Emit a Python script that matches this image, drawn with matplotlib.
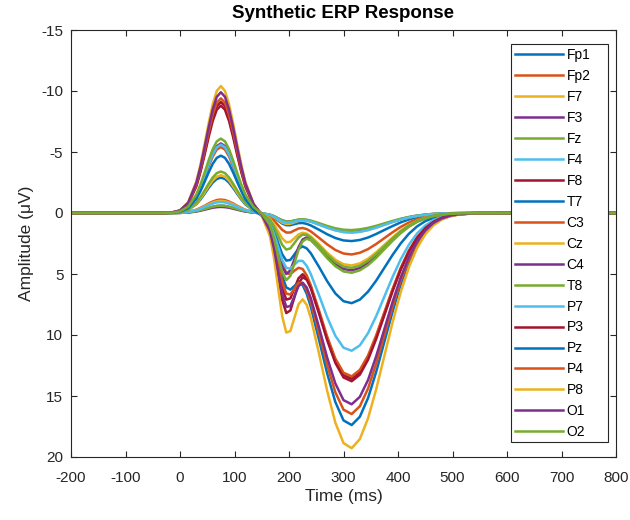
import matplotlib
matplotlib.use("Agg")
import matplotlib.pyplot as plt
from matplotlib.patches import Rectangle

plt.rcParams['font.family'] = ['Liberation Sans', 'DejaVu Sans']
plt.rcParams['axes.unicode_minus'] = False

# Time axis (ms)
time_ms = [-200, -30, -15, 0, 15, 30,
           37.5, 45, 52.5, 60, 67.5, 75, 82.5, 90, 97.5, 105, 112.5,
           120, 135, 150, 165,
           172.5, 180, 187.5, 195, 202.5, 210, 217.5, 225, 232.5,
           240, 255, 270, 285, 300, 315, 330, 345, 360, 375, 390, 405, 420, 435,
           450, 465, 480, 495, 510, 540, 800]

channels = ['Fp1', 'Fp2', 'F7', 'F3', 'Fz', 'F4', 'F8', 'T7', 'C3', 'Cz',
            'C4', 'T8', 'P7', 'P3', 'Pz', 'P4', 'P8', 'O1', 'O2']

# Amplitudes (uV) per channel
Fp1 = [0, 0, 0.0, -0.01, -0.05, -0.15,
       -0.23, -0.32, -0.42, -0.51, -0.58, -0.6, -0.58, -0.51, -0.42, -0.32, -0.23,
       -0.14, -0.04, 0.04, 0.20,
       0.38, 0.62, 0.86, 1.00, 1.00, 0.91, 0.83, 0.82, 0.89,
       1.02, 1.37, 1.74, 2.05, 2.25, 2.30, 2.21, 2.01, 1.72, 1.39, 1.07, 0.77, 0.53, 0.34,
       0.21, 0.12, 0.07, 0.03, 0.02, 0.0, 0]
Fp2 = [0, 0, 0.0, -0.02, -0.09, -0.27,
       -0.42, -0.59, -0.78, -0.94, -1.06, -1.1, -1.06, -0.94, -0.78, -0.59, -0.42,
       -0.26, -0.07, 0.05, 0.31,
       0.61, 1.00, 1.38, 1.60, 1.60, 1.43, 1.27, 1.23, 1.32,
       1.51, 2.03, 2.57, 3.03, 3.32, 3.40, 3.26, 2.96, 2.54, 2.06, 1.58, 1.14, 0.78, 0.51,
       0.31, 0.18, 0.10, 0.05, 0.02, 0.0, 0]
F7 = [0, 0, 0.0, -0.02, -0.09, -0.25,
      -0.38, -0.54, -0.71, -0.86, -0.96, -1.0, -0.96, -0.86, -0.71, -0.54, -0.38,
      -0.25, -0.07, 0.02, 0.17,
      0.34, 0.56, 0.78, 0.90, 0.88, 0.77, 0.65, 0.60, 0.63,
      0.71, 0.95, 1.21, 1.42, 1.56, 1.60, 1.54, 1.40, 1.20, 0.97, 0.74, 0.54, 0.37, 0.24,
      0.15, 0.08, 0.05, 0.02, 0.01, 0.0, 0]
F3 = [0, 0, 0.0, -0.01, -0.04, -0.12,
      -0.19, -0.27, -0.35, -0.43, -0.48, -0.5, -0.48, -0.43, -0.35, -0.27, -0.19,
      -0.12, -0.03, 0.02, 0.14,
      0.26, 0.44, 0.60, 0.70, 0.70, 0.63, 0.56, 0.54, 0.58,
      0.67, 0.89, 1.13, 1.34, 1.47, 1.50, 1.44, 1.31, 1.12, 0.91, 0.70, 0.50, 0.35, 0.22,
      0.14, 0.08, 0.04, 0.02, 0.01, 0.0, 0]
Fz = [0, 0, 0.0, -0.01, -0.05, -0.15,
      -0.23, -0.32, -0.42, -0.51, -0.58, -0.6, -0.58, -0.51, -0.42, -0.32, -0.23,
      -0.15, -0.04, 0.02, 0.14,
      0.26, 0.44, 0.60, 0.70, 0.69, 0.61, 0.54, 0.51, 0.55,
      0.62, 0.83, 1.06, 1.25, 1.37, 1.40, 1.34, 1.22, 1.05, 0.85, 0.65, 0.47, 0.32, 0.21,
      0.13, 0.07, 0.04, 0.02, 0.01, 0.0, 0]
F4 = [0, 0, 0.0, -0.02, -0.08, -0.22,
      -0.34, -0.49, -0.64, -0.77, -0.87, -0.9, -0.87, -0.77, -0.64, -0.49, -0.34,
      -0.22, -0.07, 0.02, 0.15,
      0.30, 0.50, 0.69, 0.80, 0.79, 0.70, 0.62, 0.59, 0.62,
      0.71, 0.95, 1.21, 1.42, 1.56, 1.60, 1.54, 1.40, 1.20, 0.97, 0.74, 0.54, 0.37, 0.24,
      0.15, 0.08, 0.05, 0.02, 0.01, 0.0, 0]
F8 = [0, 0, -0.03, -0.18, -0.75, -2.19,
      -3.35, -4.75, -6.22, -7.54, -8.47, -8.8, -8.47, -7.54, -6.22, -4.75, -3.35,
      -2.15, -0.66, 0.13, 1.36,
      2.68, 4.44, 6.14, 7.10, 7.00, 6.18, 5.35, 5.02, 5.32,
      6.06, 8.11, 10.27, 12.10, 13.29, 13.59, 13.06, 11.86, 10.17, 8.25, 6.32, 4.57, 3.13, 2.02,
      1.23, 0.71, 0.39, 0.20, 0.10, 0.02, 0]
T7 = [0, 0, -0.01, -0.06, -0.25, -0.72,
      -1.10, -1.57, -2.05, -2.49, -2.79, -2.9, -2.79, -2.49, -2.05, -1.57, -1.10,
      -0.70, -0.20, 0.11, 0.75,
      1.47, 2.44, 3.38, 3.90, 3.85, 3.39, 2.92, 2.74, 2.90,
      3.30, 4.41, 5.59, 6.59, 7.23, 7.39, 7.10, 6.45, 5.54, 4.49, 3.44, 2.49, 1.70, 1.10,
      0.67, 0.39, 0.21, 0.11, 0.05, 0.01, 0]
C3 = [0, 0, -0.02, -0.11, -0.46, -1.34,
      -2.06, -2.92, -3.82, -4.63, -5.20, -5.4, -5.20, -4.63, -3.82, -2.92, -2.06,
      -1.31, -0.37, 0.15, 0.99,
      1.86, 3.02, 4.17, 4.90, 5.02, 4.73, 4.49, 4.59, 5.11,
      5.93, 7.98, 10.12, 11.93, 13.09, 13.39, 12.86, 11.68, 10.02, 8.13, 6.23, 4.50, 3.08, 1.99,
      1.22, 0.70, 0.38, 0.20, 0.10, 0.02, 0]
Cz = [0, 0, -0.01, -0.07, -0.26, -0.77,
      -1.18, -1.67, -2.19, -2.66, -2.98, -3.1, -2.98, -2.66, -2.19, -1.67, -1.18,
      -0.76, -0.23, 0.04, 0.46,
      0.91, 1.51, 2.08, 2.40, 2.36, 2.06, 1.75, 1.62, 1.69,
      1.92, 2.56, 3.25, 3.83, 4.20, 4.30, 4.13, 3.75, 3.22, 2.61, 2.00, 1.44, 0.99, 0.64,
      0.39, 0.23, 0.12, 0.06, 0.03, 0.01, 0]
C4 = [0, 0, -0.02, -0.12, -0.48, -1.42,
      -2.17, -3.08, -4.03, -4.88, -5.48, -5.7, -5.48, -4.88, -4.03, -3.08, -2.17,
      -1.41, -0.45, 0.04, 0.90,
      1.87, 3.18, 4.40, 5.00, 4.70, 3.78, 2.80, 2.17, 2.00,
      2.14, 2.80, 3.55, 4.18, 4.59, 4.70, 4.51, 4.10, 3.52, 2.85, 2.19, 1.58, 1.08, 0.70,
      0.43, 0.25, 0.13, 0.07, 0.03, 0.01, 0]
T8 = [0, 0, -0.01, -0.07, -0.29, -0.85,
      -1.30, -1.84, -2.40, -2.91, -3.27, -3.4, -3.27, -2.91, -2.40, -1.84, -1.30,
      -0.83, -0.26, 0.04, 0.56,
      1.13, 1.89, 2.61, 3.00, 2.90, 2.46, 2.01, 1.77, 1.80,
      2.02, 2.68, 3.40, 4.01, 4.40, 4.50, 4.32, 3.92, 3.37, 2.73, 2.09, 1.51, 1.04, 0.67,
      0.41, 0.24, 0.13, 0.07, 0.03, 0.01, 0]
P7 = [0, 0, -0.02, -0.12, -0.48, -1.39,
      -2.13, -3.02, -3.96, -4.80, -5.39, -5.6, -5.39, -4.80, -3.96, -3.02, -2.13,
      -1.36, -0.40, 0.12, 0.89,
      1.71, 2.79, 3.85, 4.50, 4.56, 4.23, 3.92, 3.93, 4.33,
      5.01, 6.73, 8.53, 10.06, 11.04, 11.29, 10.85, 9.85, 8.45, 6.85, 5.25, 3.80, 2.60, 1.68,
      1.03, 0.59, 0.32, 0.17, 0.08, 0.02, 0]
P3 = [0, 0, -0.04, -0.19, -0.77, -2.27,
      -3.47, -4.91, -6.43, -7.80, -8.76, -9.1, -8.76, -7.80, -6.43, -4.91, -3.47,
      -2.23, -0.68, 0.15, 1.55,
      3.09, 5.14, 7.12, 8.20, 7.99, 6.91, 5.79, 5.27, 5.46,
      6.17, 8.23, 10.42, 12.28, 13.48, 13.79, 13.25, 12.03, 10.32, 8.37, 6.42, 4.64, 3.17, 2.05,
      1.25, 0.72, 0.39, 0.20, 0.10, 0.02, 0]
Pz = [0, 0, -0.02, -0.10, -0.40, -1.17,
      -1.79, -2.54, -3.32, -4.03, -4.52, -4.7, -4.52, -4.03, -3.32, -2.54, -1.79,
      -1.12, -0.28, 0.24, 1.25,
      2.32, 3.75, 5.18, 6.10, 6.28, 5.98, 5.73, 5.91, 6.62,
      7.69, 10.37, 13.14, 15.49, 17.00, 17.38, 16.70, 15.17, 13.02, 10.55, 8.09, 5.85, 4.00, 2.59,
      1.58, 0.91, 0.50, 0.26, 0.13, 0.02, 0]
P4 = [0, 0, -0.04, -0.20, -0.80, -2.34,
      -3.58, -5.08, -6.64, -8.06, -9.04, -9.4, -9.04, -8.06, -6.64, -5.08, -3.58,
      -2.30, -0.69, 0.14, 1.30,
      2.50, 4.08, 5.64, 6.60, 6.69, 6.19, 5.74, 5.75, 6.33,
      7.31, 9.83, 12.46, 14.69, 16.12, 16.48, 15.84, 14.39, 12.34, 10.01, 7.67, 5.54, 3.80, 2.45,
      1.50, 0.86, 0.47, 0.24, 0.12, 0.02, 0]
P8 = [0, 0, -0.04, -0.22, -0.88, -2.59,
      -3.96, -5.62, -7.35, -8.91, -10.01, -10.4, -10.01, -8.91, -7.35, -5.62, -3.96,
      -2.54, -0.75, 0.22, 1.89,
      3.70, 6.12, 8.46, 9.80, 9.68, 8.58, 7.48, 7.08, 7.53,
      8.59, 11.50, 14.57, 17.18, 18.86, 19.28, 18.53, 16.83, 14.44, 11.71, 8.97, 6.48, 4.44, 2.87,
      1.75, 1.01, 0.55, 0.28, 0.14, 0.03, 0]
O1 = [0, 0, -0.04, -0.21, -0.84, -2.47,
      -3.77, -5.35, -7.00, -8.48, -9.52, -9.9, -9.52, -8.48, -7.00, -5.35, -3.77,
      -2.42, -0.73, 0.14, 1.48,
      2.91, 4.80, 6.64, 7.70, 7.63, 6.81, 5.99, 5.71, 6.11,
      6.98, 9.36, 11.85, 13.97, 15.34, 15.68, 15.07, 13.69, 11.74, 9.52, 7.30, 5.28, 3.61, 2.33,
      1.43, 0.82, 0.45, 0.23, 0.11, 0.02, 0]
O2 = [0, 0, -0.02, -0.13, -0.52, -1.52,
      -2.32, -3.29, -4.31, -5.23, -5.87, -6.1, -5.87, -5.23, -4.31, -3.29, -2.32,
      -1.51, -0.49, 0.04, 0.98,
      2.06, 3.50, 4.85, 5.50, 5.16, 4.12, 3.02, 2.32, 2.11,
      2.24, 2.92, 3.70, 4.36, 4.79, 4.90, 4.70, 4.27, 3.67, 2.97, 2.28, 1.65, 1.13, 0.73,
      0.44, 0.26, 0.14, 0.07, 0.04, 0.01, 0]

series = [Fp1, Fp2, F7, F3, Fz, F4, F8, T7, C3, Cz, C4, T8, P7, P3, Pz, P4, P8, O1, O2]

matlab_colors = ['#0072BD', '#D95319', '#EDB120', '#7E2F8E', '#77AC30', '#4DBEEE', '#A2142F']

W, H = 630, 520
fig = plt.figure(figsize=(W / 100, H / 100), dpi=100)
ax = fig.add_axes([71 / W, 1 - 457 / H, (616 - 71) / W, (457 - 30) / H])

for i, (name, vals) in enumerate(zip(channels, series)):
    ax.plot(time_ms, vals, color=matlab_colors[i % 7], lw=1.8, label=name,
            solid_joinstyle='round')

ax.set_xlim(-200, 800)
ax.set_ylim(20, -15)
ax.set_xticks(range(-200, 801, 100))
ax.set_yticks(range(-15, 21, 5))

dark = '#262626'
for s in ax.spines.values():
    s.set_color(dark)
    s.set_linewidth(0.8)
ax.tick_params(direction='in', top=True, right=True, length=4.5, width=0.8,
               colors=dark, labelsize=11, labelcolor=dark)
ax.tick_params(axis='x', pad=10)
ax.tick_params(axis='y', pad=5.5)

ax.set_xlabel('Time (ms)', fontsize=12.5, color=dark, labelpad=3)
ax.set_ylabel('Amplitude (μV)', fontsize=12.5, color=dark, labelpad=5)
ax.set_title('Synthetic ERP Response', fontsize=13.5, fontweight='bold',
             color='black', pad=8.5)

# legend box (MATLAB style)
box = Rectangle((511 / W, 1 - 442 / H), 97 / W, 398 / H, transform=fig.transFigure,
                facecolor='white', edgecolor=dark, linewidth=0.8, zorder=4,
                clip_on=False)
ax.add_patch(box)
leg = ax.legend(loc='upper left', bbox_to_anchor=(511 / W, 1 - 44 / H),
                bbox_transform=fig.transFigure, borderaxespad=0, fontsize=10,
                handlelength=3.45, handletextpad=0.25, labelspacing=0.5,
                borderpad=0.3, frameon=False)
leg.set_zorder(5)

fig.savefig('out.png', dpi=100)
